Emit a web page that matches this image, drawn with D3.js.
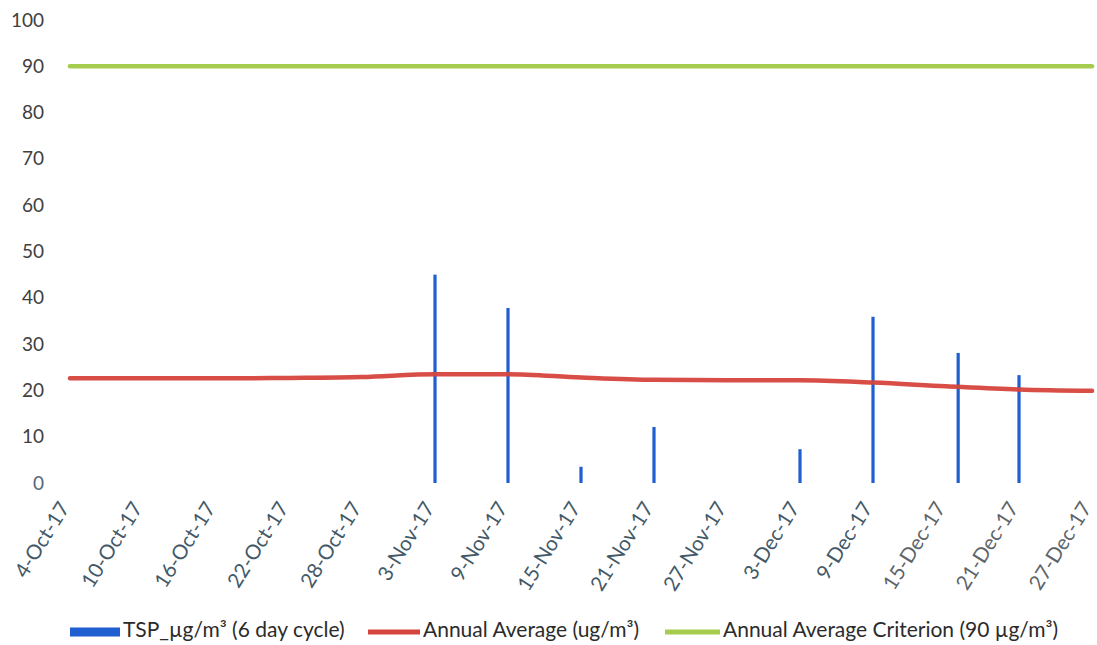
<!DOCTYPE html>
<html>
<head>
<meta charset="utf-8">
<script src="https://cdn.jsdelivr.net/npm/d3@7"></script>
<style>
  html, body { margin: 0; padding: 0; background: #ffffff; }
  svg { display: block; font-family: Lato, "Open Sans", sans-serif; }
</style>
</head>
<body>
<svg id="chart" width="1097" height="645"></svg>
<script>
// ---- data ----
const tickLabels = ["4-Oct-17","10-Oct-17","16-Oct-17","22-Oct-17","28-Oct-17","3-Nov-17","9-Nov-17",
  "15-Nov-17","21-Nov-17","27-Nov-17","3-Dec-17","9-Dec-17","15-Dec-17","21-Dec-17","27-Dec-17"];
const tspDates  = ["3-Nov-17","9-Nov-17","15-Nov-17","21-Nov-17","3-Dec-17","9-Dec-17","16-Dec-17","21-Dec-17"];
const tspValues = [45, 37.8, 3.5, 12.1, 7.3, 35.9, 28.1, 23.3];
const avgDates  = tickLabels;
const avgValues = [22.6, 22.6, 22.6, 22.7, 22.9, 23.5, 23.5, 22.8, 22.3, 22.2, 22.2, 21.7, 20.9, 20.2, 19.9];
const criterionValue = 90;
const yTicks = [0,10,20,30,40,50,60,70,80,90,100];
const legendLabels = ["TSP_\u00b5g/m\u00b3 (6 day cycle)", "Annual Average (ug/m\u00b3)", "Annual Average Criterion (90 \u00b5g/m\u00b3)"];

// ---- setup ----
const parse = d3.timeParse("%d-%b-%y");
const fmt = d3.timeFormat("%-d-%b-%y");
const svg = d3.select("#chart");

const x = d3.scaleTime()
  .domain([parse(tickLabels[0]), parse(tickLabels[tickLabels.length - 1])])
  .range([70, 1092]);
const y = d3.scaleLinear().domain([0, 100]).range([483, 20]);

const colBlue = "#1f5fcf", colRed = "#d6453d", colGreen = "#a6cc4f";

// y axis labels
const yAxis = d3.axisLeft(y).tickValues(yTicks).tickSize(0).tickPadding(0).tickFormat(d3.format("d"));
const gy = svg.append("g").attr("transform", "translate(44,0)").call(yAxis);
gy.select(".domain").remove();
gy.selectAll("text")
  .attr("font-size", "19px")
  .attr("font-family", "Lato, 'Open Sans', sans-serif")
  .attr("fill", (d) => d === 0 ? "#56677a" : "#404040");

// x axis labels
const xAxis = d3.axisBottom(x).tickValues(tickLabels.map(parse)).tickFormat(fmt).tickSize(0).tickPadding(0);
const gx = svg.append("g").call(xAxis);
gx.select(".domain").remove();
gx.selectAll(".tick").attr("transform", (d) => `translate(${x(d) - 4},505)`);
gx.selectAll("text")
  .attr("x", 0).attr("y", 0).attr("dy", null)
  .attr("dominant-baseline", "middle")
  .attr("text-anchor", "end")
  .attr("transform", "rotate(-58)")
  .attr("font-size", "20.5px")
  .attr("font-family", "Lato, 'Open Sans', sans-serif")
  .attr("fill", (d, i) => i >= 12 ? "#5e6468" : "#435968");

// criterion line
svg.append("line")
  .attr("x1", x(parse(tickLabels[0]))).attr("x2", x(parse(tickLabels[tickLabels.length - 1])))
  .attr("y1", y(criterionValue)).attr("y2", y(criterionValue))
  .attr("stroke", colGreen).attr("stroke-width", 4.5).attr("stroke-linecap", "round");

// TSP bars
const barW = 3.2;
svg.append("g").selectAll("rect")
  .data(tspDates.map((d, i) => ({ date: parse(d), v: tspValues[i] })))
  .join("rect")
  .attr("x", (d) => x(d.date) - barW / 2)
  .attr("y", (d) => y(d.v))
  .attr("width", barW)
  .attr("height", (d) => y(0) - y(d.v))
  .attr("fill", colBlue);

// annual average line
const line = d3.line().x((d) => x(d.date)).y((d) => y(d.v)).curve(d3.curveMonotoneX);
svg.append("path")
  .datum(avgDates.map((d, i) => ({ date: parse(d), v: avgValues[i] })))
  .attr("d", line)
  .attr("fill", "none")
  .attr("stroke", colRed)
  .attr("stroke-width", 4.5)
  .attr("stroke-linecap", "round")
  .attr("opacity", 0.95);

// legend
const legY = 632;
const legendItems = [
  { label: legendLabels[0], color: colBlue,  sx: 70,  sw: 50, sh: 9, tx: 123 },
  { label: legendLabels[1], color: colRed,   sx: 368, sw: 52, sh: 5, tx: 423 },
  { label: legendLabels[2], color: colGreen, sx: 665, sw: 55, sh: 5, tx: 723 }
];
const lg = svg.append("g");
legendItems.forEach((it) => {
  lg.append("rect").attr("x", it.sx).attr("y", legY - it.sh / 2).attr("width", it.sw).attr("height", it.sh).attr("fill", it.color);
  lg.append("text").attr("x", it.tx).attr("y", legY).attr("dominant-baseline", "middle")
    .attr("font-size", "21px").attr("fill", "#2b2b2b").text(it.label);
});
</script>
</body>
</html>
